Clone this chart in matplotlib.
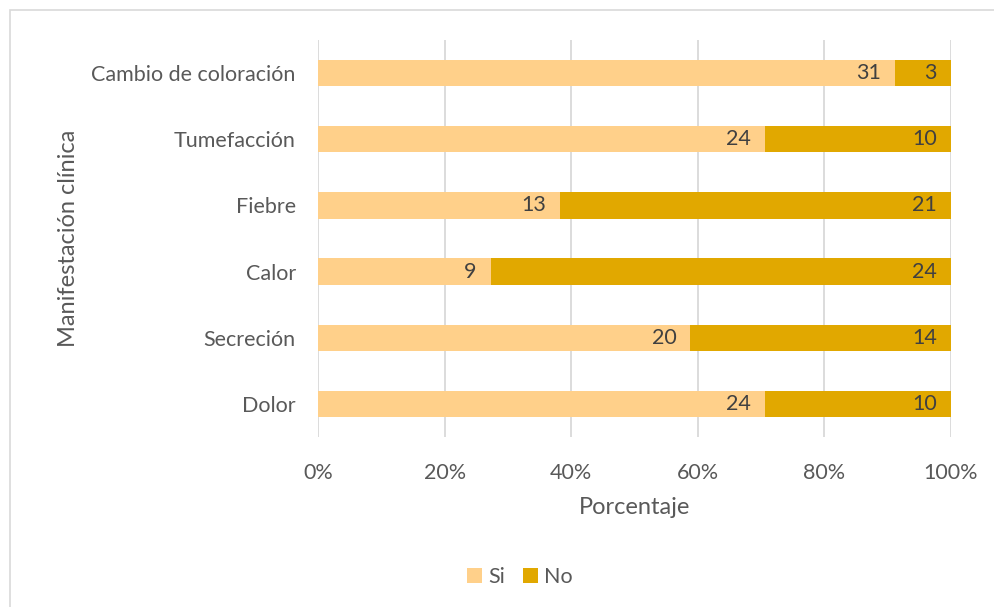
import matplotlib.pyplot as plt
from matplotlib.patches import Rectangle
from matplotlib.ticker import PercentFormatter

categorias = ['Dolor', 'Secreción', 'Calor', 'Fiebre', 'Tumefacción', 'Cambio de coloración']
si = [24, 20, 9, 13, 24, 31]
no = [10, 14, 24, 21, 10, 3]

color_si = '#FFD08A'
color_no = '#E1A800'
gris_texto = '#595959'

plt.rcParams['font.family'] = ['Lato', 'DejaVu Sans']

fig = plt.figure(figsize=(9.95, 6.07), dpi=100)
ax = fig.add_axes([318 / 995, 1 - 437 / 607, (951 - 318) / 995, (437 - 40) / 607])

# marco exterior del gráfico
fig.patches.append(Rectangle((10 / 995, -0.05), 1.2, 1 - 10 / 607 + 0.05,
                             transform=fig.transFigure, fill=False,
                             edgecolor='#D9D9D9', linewidth=1.2))

# porcentajes para barras apiladas al 100%
total = [a + b for a, b in zip(si, no)]
p_si = [a / t * 100 for a, t in zip(si, total)]
p_no = [b / t * 100 for b, t in zip(no, total)]

pos = range(len(categorias))
b1 = ax.barh(pos, p_si, height=0.4, color=color_si, label='Si', zorder=3)
b2 = ax.barh(pos, p_no, left=p_si, height=0.4, color=color_no, label='No', zorder=3)

for barras, valores in ((b1, si), (b2, no)):
    for barra, v in zip(barras, valores):
        x = barra.get_x() + barra.get_width()
        y = barra.get_y() + barra.get_height() / 2
        ax.text(x - 2.2, y, str(v), ha='right', va='center',
                fontsize=15.5, color='#404040', zorder=4)

ax.set_xlim(0, 100)
ax.set_ylim(-0.5, len(categorias) - 0.5)
ax.set_xticks(range(0, 101, 20))
ax.xaxis.set_major_formatter(PercentFormatter(decimals=0))
ax.set_yticks(list(pos))
ax.set_yticklabels(categorias)
ax.tick_params(axis='both', length=0, labelsize=15.5, labelcolor=gris_texto)
ax.tick_params(axis='x', pad=19)
ax.tick_params(axis='y', pad=16)
ax.grid(axis='x', color='#D9D9D9', linewidth=1.3, zorder=0)
for s in ax.spines.values():
    s.set_visible(False)

ax.set_xlabel('Porcentaje', fontsize=17, color=gris_texto, labelpad=10)
ax.set_ylabel('Manifestación clínica', fontsize=17, color=gris_texto, labelpad=9)

fig.legend(loc='center', bbox_to_anchor=(520 / 995, 1 - 577 / 607), ncol=2,
           frameon=False, fontsize=15.5, handlelength=0.7, handleheight=0.7,
           handletextpad=0.3, columnspacing=0.8, labelcolor=gris_texto)

fig.savefig('out.png', dpi=100)
